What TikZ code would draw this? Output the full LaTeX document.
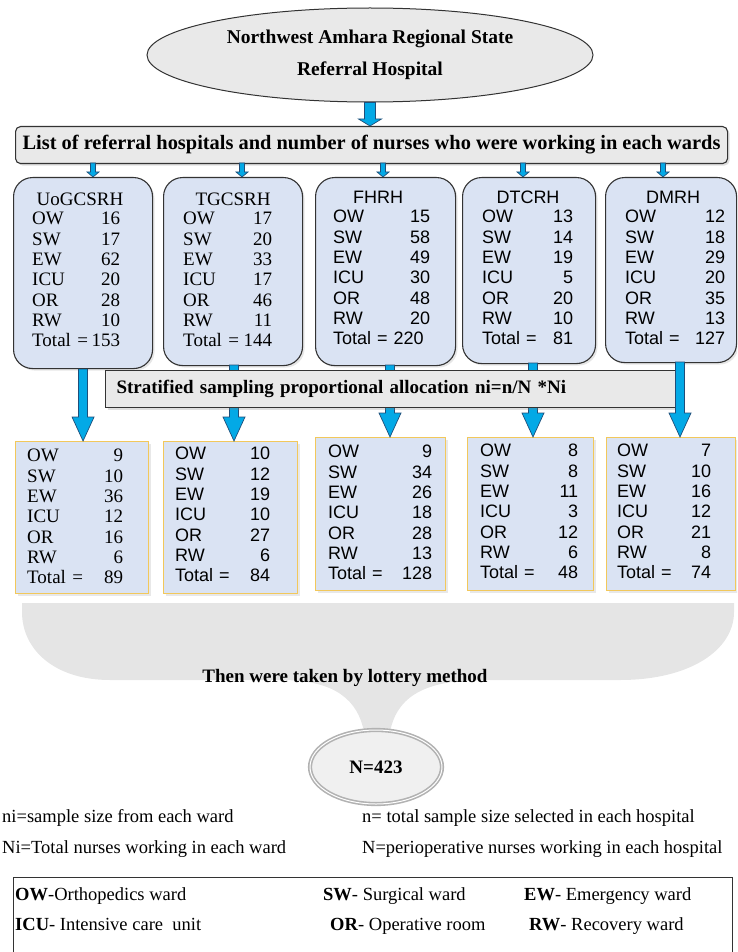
\documentclass[tikz,border=0pt]{standalone}
\usepackage{fontspec}
\setmainfont{Liberation Serif}
\setsansfont{Liberation Sans}
\usetikzlibrary{shapes.geometric,shadows,calc}
\definecolor{boxblue}{HTML}{DAE3F3}
\definecolor{arrcyan}{HTML}{03A9E6}
\definecolor{arrline}{HTML}{1F4E79}
\definecolor{barfill}{HTML}{E9E9E9}
\definecolor{goldline}{HTML}{F2C85B}
\definecolor{shapegray}{HTML}{E5E5E5}
\definecolor{edge}{HTML}{333333}
\tikzset{
  blk/.style n args={3}{draw=arrline, fill=arrcyan, line width=0.7pt, line join=miter,
    to path={let \p1=(\tikztostart), \p2=(\tikztotarget) in
      ({\x1-#1},\y1) -- ({\x1-#1},{\y2+#3}) -- ({\x1-#2},{\y2+#3}) -- (\x1,\y2)
      -- ({\x1+#2},{\y2+#3}) -- ({\x1+#1},{\y2+#3}) -- ({\x1+#1},\y1) -- cycle}},
  bigarr/.style={blk={4.5pt}{11pt}{24pt}},
  smallarr/.style={blk={2.5pt}{6pt}{5pt}},
  toparr/.style={blk={5.5pt}{11.5pt}{7pt}},
  hbox/.style={draw=edge, line width=1.1pt, fill=boxblue, rounded corners=19pt, anchor=north west,
    drop shadow={shadow xshift=2pt, shadow yshift=-2pt, opacity=0.2}},
  sbox/.style={draw=goldline, line width=1.4pt, fill=boxblue, anchor=north west,
    drop shadow={shadow xshift=2pt, shadow yshift=-2pt, opacity=0.18}},
  barbox/.style={draw=edge, line width=1.1pt, fill=barfill, anchor=north west,
    drop shadow={shadow xshift=2pt, shadow yshift=-2pt, opacity=0.25}},
  serifrows/.style={anchor=north west, inner sep=0pt, align=left, font=\fontsize{19}{20.33}\selectfont},
  sansrows/.style={anchor=north west, inner sep=0pt, align=left, font=\sffamily\fontsize{18}{20.33}\selectfont},
  seriftitle/.style={anchor=base, inner sep=0pt, font=\fontsize{19}{20}\selectfont},
  sanstitle/.style={anchor=base, inner sep=0pt, font=\sffamily\fontsize{18}{20}\selectfont},
  legtext/.style={anchor=base west, inner sep=0pt, font=\fontsize{18.5}{20}\selectfont},
}
\newcommand\wrow[2]{#1\hfill#2}
\begin{document}
\begin{tikzpicture}[x=1pt,y=-1pt]
\useasboundingbox (0,0) rectangle (737,952);
\clip (0,0) rectangle (737,952);

% top ellipse
\node[ellipse, draw=edge, line width=1pt, fill=barfill, minimum width=446pt, minimum height=94pt,
  inner sep=0pt, align=center, font=\bfseries\fontsize{19.5}{32}\selectfont] (top) at (370,55)
  {Northwest Amhara Regional State\\Referral Hospital};

% list bar
\node[barbox, rounded corners=5pt, minimum width=712pt, minimum height=37pt, inner sep=0pt,
  font=\bfseries\fontsize{20.4}{21}\selectfont] (list) at (15,126)
  {List of referral hospitals and number of nurses who were working in each wards};

\path[toparr] (top.south) to (top.south |- list.north);

% hospital boxes
\node[hbox, minimum width=139pt, minimum height=191pt] (h1) at (13,177) {};
\node[hbox, minimum width=139pt, minimum height=188pt] (h2) at (163,177) {};
\node[hbox, minimum width=140pt, minimum height=188pt] (h3) at (315,177) {};
\node[hbox, minimum width=133pt, minimum height=186pt] (h4) at (462,177) {};
\node[hbox, minimum width=131pt, minimum height=185pt] (h5) at (605,177) {};

\node[seriftitle] (t1) at (80,205) {UoGCSRH};
\node[seriftitle] (t2) at (233,205) {TGCSRH};
\node[sanstitle] (t3) at (378,203) {FHRH};
\node[sanstitle] (t4) at (528,203) {DTCRH};
\node[sanstitle] (t5) at (673,203) {DMRH};

\node[serifrows, text width=88pt] (c1) at (32,212) {\wrow{OW}{16}\\\wrow{SW}{17}\\\wrow{EW}{62}\\\wrow{ICU}{20}\\\wrow{OR}{28}\\\wrow{RW}{10}\\\wrow{Total =}{153}};
\node[serifrows, text width=89pt] (c2) at (183,212) {\wrow{OW}{17}\\\wrow{SW}{20}\\\wrow{EW}{33}\\\wrow{ICU}{17}\\\wrow{OR}{46}\\\wrow{RW}{11}\\\wrow{Total =}{144}};
\node[sansrows, text width=97pt] (c3) at (333,210) {\wrow{OW}{15}\\\wrow{SW}{58}\\\wrow{EW}{49}\\\wrow{ICU}{30}\\\wrow{OR}{48}\\\wrow{RW}{20}\\\wrow{Total = 220}{}};
\node[sansrows, text width=91pt] (c4) at (482,210) {\wrow{OW}{13}\\\wrow{SW}{14}\\\wrow{EW}{19}\\\wrow{ICU}{5}\\\wrow{OR}{20}\\\wrow{RW}{10}\\\wrow{Total =}{81\hspace*{3pt}}};
\node[sansrows, text width=100pt] (c5) at (625,210) {\wrow{OW}{12}\\\wrow{SW}{18}\\\wrow{EW}{29}\\\wrow{ICU}{20}\\\wrow{OR}{35}\\\wrow{RW}{13}\\\wrow{Total =}{127}};

% small arrows bar -> boxes
\coordinate (b1) at (93,163);
\coordinate (b2) at (242,163);
\coordinate (b3) at (383,163);
\coordinate (b4) at (523,163);
\coordinate (b5) at (663,163);
\path[smallarr] (b1) to (b1 |- h1.north);
\path[smallarr] (b2) to (b2 |- h2.north);
\path[smallarr] (b3) to (b3 |- h3.north);
\path[smallarr] (b4) to (b4 |- h4.north);
\path[smallarr] (b5) to (b5 |- h5.north);

% sample boxes
\node[sbox, minimum width=133pt, minimum height=152pt] (s1) at (15,441) {};
\node[sbox, minimum width=134pt, minimum height=152pt] (s2) at (163,441) {};
\node[sbox, minimum width=130pt, minimum height=153pt] (s3) at (315,437) {};
\node[sbox, minimum width=126pt, minimum height=153pt] (s4) at (467,437) {};
\node[sbox, minimum width=129pt, minimum height=153pt] (s5) at (606,437) {};

\node[serifrows, text width=96pt] (r1) at (27,449) {\wrow{OW}{9}\\\wrow{SW}{10}\\\wrow{EW}{36}\\\wrow{ICU}{12}\\\wrow{OR}{16}\\\wrow{RW}{6}\\\wrow{Total =}{89}};
\node[sansrows, text width=95pt] (r2) at (175,447) {\wrow{OW}{10}\\\wrow{SW}{12}\\\wrow{EW}{19}\\\wrow{ICU}{10}\\\wrow{OR}{27}\\\wrow{RW}{6}\\\wrow{Total =}{84}};
\node[sansrows, text width=104pt] (r3) at (328,445) {\wrow{OW}{9}\\\wrow{SW}{34}\\\wrow{EW}{26}\\\wrow{ICU}{18}\\\wrow{OR}{28}\\\wrow{RW}{13}\\\wrow{Total =}{128}};
\node[sansrows, text width=98pt] (r4) at (480,444) {\wrow{OW}{8}\\\wrow{SW}{8}\\\wrow{EW}{11}\\\wrow{ICU}{3}\\\wrow{OR}{12}\\\wrow{RW}{6}\\\wrow{Total =}{48}};
\node[sansrows, text width=94pt] (r5) at (617,444) {\wrow{OW}{7}\\\wrow{SW}{10}\\\wrow{EW}{16}\\\wrow{ICU}{12}\\\wrow{OR}{21}\\\wrow{RW}{8}\\\wrow{Total =}{74}};

% big arrows
\coordinate (d2) at (234,365);
\coordinate (d3) at (390,365);
\coordinate (d4) at (533,363);
\coordinate (d5) at (680,362);
\path[bigarr] (h1.south) to (h1.south |- s1.north);
\path[bigarr] (d2) to (d2 |- s2.north);
\path[bigarr] (d3) to (d3 |- s3.north);
\path[bigarr] (d4) to (d4 |- s4.north);

% stratified bar
\node[barbox, text width=551pt, inner xsep=11pt, inner ysep=0pt, minimum height=37pt, align=left,
  font=\bfseries\fontsize{19}{20}\selectfont] (strat) at (105,370)
  {Stratified sampling proportional allocation ni=n/N *Ni};
\path[bigarr] (d5) to (d5 |- s5.north);

% grey funnel shape
\fill[shapegray] (22,603) -- (734,603) -- (734,612)
  .. controls (734,650) and (690,680) .. (620,680) -- (478,680)
  .. controls (420,681) and (396,700) .. (390,732) -- (364,732)
  .. controls (358,700) and (335,681) .. (285,680) -- (110,680)
  .. controls (55,680) and (22,650) .. (22,612) -- cycle;
\node[anchor=base, inner sep=0pt, font=\bfseries\fontsize{19}{20}\selectfont] (lot) at (345,682)
  {Then were taken by lottery method};

\node[ellipse, draw=gray!60, line width=1.6pt, double=white, double distance=1pt, fill=black!6,
  minimum width=132pt, minimum height=74pt, inner sep=0pt,
  font=\bfseries\fontsize{19}{20}\selectfont] (n) at (376,767) {N=423};

% notes
\node[legtext] (l1) at (2,822) {ni=sample size from each ward};
\node[legtext] (l2) at (2,853) {Ni=Total nurses working in each ward};
\node[legtext] (l3) at (362,822) {n= total sample size selected in each hospital};
\node[legtext] (l4) at (362,853) {N=perioperative nurses working in each hospital};

% legend box
\node[draw=edge, line width=1.4pt, anchor=north west, minimum width=719pt, minimum height=100pt] (legbox) at (13,877) {};
\node[legtext] (k1) at (15,900) {\textbf{OW}-Orthopedics ward};
\node[legtext] (k2) at (323,900) {\textbf{SW}- Surgical ward};
\node[legtext] (k3) at (524,900) {\textbf{EW}- Emergency ward};
\node[legtext] (k4) at (15,930) {\textbf{ICU}- Intensive care~ unit};
\node[legtext] (k5) at (330,930) {\textbf{OR}- Operative room};
\node[legtext] (k6) at (529,930) {\textbf{RW}- Recovery ward};
\end{tikzpicture}
\end{document}
